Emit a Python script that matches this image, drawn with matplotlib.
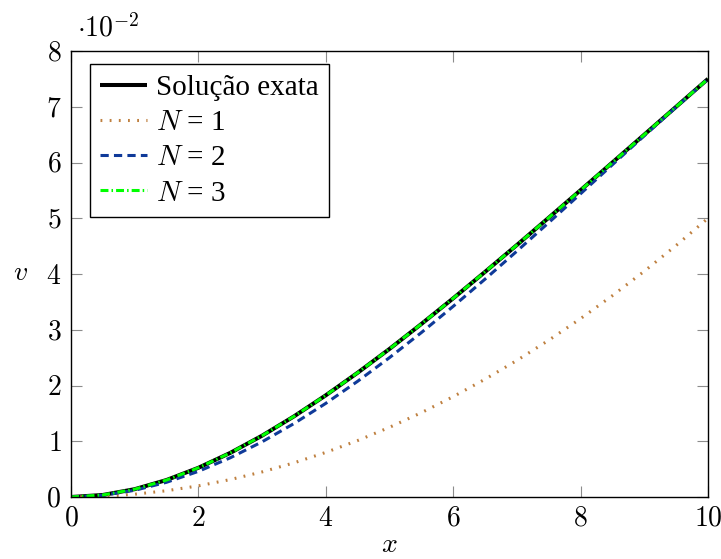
import matplotlib
matplotlib.use("Agg")
import matplotlib.pyplot as plt

plt.rcParams['font.family'] = ['Liberation Serif', 'DejaVu Serif']
plt.rcParams['mathtext.fontset'] = 'cm'

x = [0.0, 0.5, 1.0, 1.5, 2.0, 2.5, 3.0, 3.5, 4.0, 4.5, 5.0,
     5.5, 6.0, 6.5, 7.0, 7.5, 8.0, 8.5, 9.0, 9.5, 10.0]

v_exata = [0.0, 0.000363, 0.001403, 0.00305, 0.00524, 0.00791, 0.0110,
           0.01446, 0.01824, 0.02229, 0.02656, 0.03103, 0.03564, 0.04038,
           0.04520, 0.05010, 0.05504, 0.06001, 0.06500, 0.07000, 0.0750]

v_n1 = [0.0, 0.000125, 0.0005, 0.001125, 0.002, 0.003125, 0.0045,
        0.006125, 0.008, 0.010125, 0.0125, 0.015125, 0.018, 0.021125,
        0.0245, 0.028125, 0.032, 0.036125, 0.0405, 0.045125, 0.050]

v_n2 = [0.0, 0.000306, 0.0012, 0.00264, 0.0046, 0.00703, 0.0099,
        0.01317, 0.0168, 0.02076, 0.025, 0.02949, 0.0342, 0.03908,
        0.0441, 0.04922, 0.0544, 0.05961, 0.0648, 0.06994, 0.0750]

v_n3 = [0.0, 0.000363, 0.001403, 0.00305, 0.00524, 0.00791, 0.0110,
        0.01446, 0.01824, 0.02229, 0.02656, 0.03103, 0.03564, 0.04038,
        0.04520, 0.05010, 0.05504, 0.06001, 0.06500, 0.07000, 0.0750]

labels = ['Solução exata', '$N$ = 1', '$N$ = 2', '$N$ = 3']
xticks = [0, 2, 4, 6, 8, 10]
yticks = [0, 0.01, 0.02, 0.03, 0.04, 0.05, 0.06, 0.07, 0.08]
ytick_labels = ['0', '1', '2', '3', '4', '5', '6', '7', '8']

fig = plt.figure(figsize=(7.21, 5.59), dpi=100)
ax = fig.add_axes([71/721, 1-497/559, (708-71)/721, (497-51)/559])

ax.plot(x, v_exata, color='black', lw=2.9, label=labels[0], solid_capstyle='butt')
ax.plot(x, v_n1, color='#BF8040', lw=2.2, dashes=(0.6, 2.4), label=labels[1])
ax.plot(x, v_n2, color='#0F3A99', lw=2.2, dashes=(2.7, 1.7), label=labels[2])
ax.plot(x, v_n3, color='#00FF00', lw=2.2, dashes=(2.6, 1.0, 0.5, 1.0), label=labels[3])

ax.set_xlim(0, 10)
ax.set_ylim(0, 0.08)
ax.set_xticks(xticks)
ax.set_xticklabels([f'${t}$' for t in xticks])
ax.set_yticks(yticks)
ax.set_yticklabels([f'${t}$' for t in ytick_labels])
ax.tick_params(direction='in', length=8, width=0.8, color='#8c8c8c',
               top=True, right=True, labelsize=20, pad=7)
for s in ax.spines.values():
    s.set_linewidth(1.0)
    s.set_color('black')

ax.set_xlabel('$x$', fontsize=20, labelpad=1)
ax.set_ylabel('$v$', fontsize=20, rotation=0, labelpad=18, va='center')
ax.text(0.01, 1.02, r'$\cdot 10^{-2}$', transform=ax.transAxes, fontsize=20,
        ha='left', va='bottom')

leg = ax.legend(loc='upper left', bbox_to_anchor=(0.03, 0.97), borderaxespad=0,
                fontsize=21, frameon=True, fancybox=False, edgecolor='black',
                handlelength=1.6, handletextpad=0.3, labelspacing=0.3,
                borderpad=0.35)
leg.get_frame().set_linewidth(1.0)
leg.get_frame().set_alpha(1)

fig.savefig('out.png', dpi=100)
